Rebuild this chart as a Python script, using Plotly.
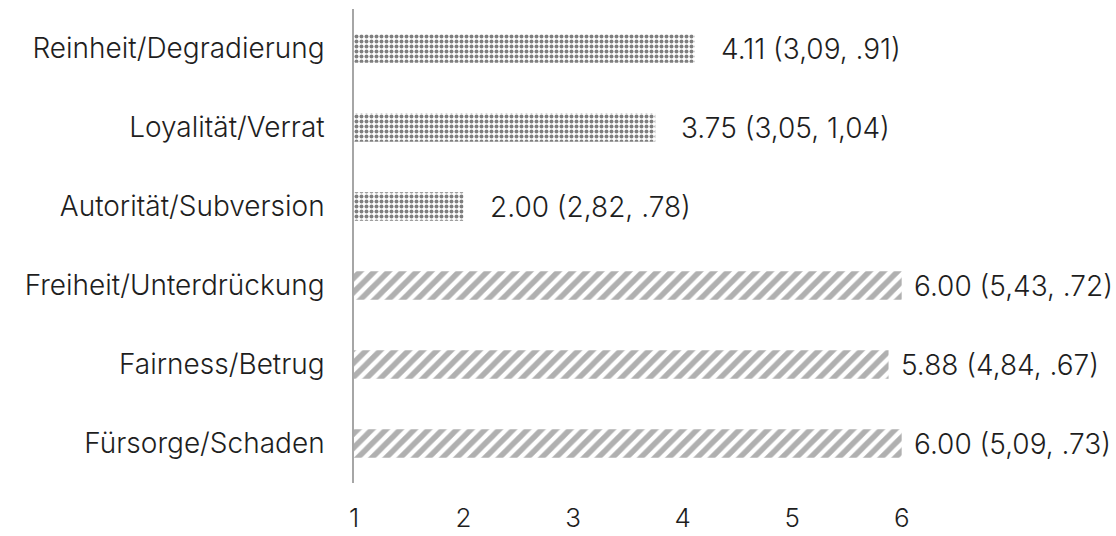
import plotly.graph_objects as go

# Moral foundations, bottom to top
individualizing = ["Fürsorge/Schaden", "Fairness/Betrug", "Freiheit/Unterdrückung"]
individualizing_mean = [6.00, 5.88, 6.00]
individualizing_ref = ["5,09", "4,84", "5,43"]
individualizing_sd = [".73", ".67", ".72"]

binding = ["Autorität/Subversion", "Loyalität/Verrat", "Reinheit/Degradierung"]
binding_mean = [2.00, 3.75, 4.11]
binding_ref = ["2,82", "3,05", "3,09"]
binding_sd = [".78", "1,04", ".91"]

categories = individualizing + binding
x_ticks = [1, 2, 3, 4, 5, 6]

FONT = dict(family="Inter, Open Sans, sans-serif", size=28, color="#1e1e1e", weight=300)
TICK_FONT = dict(FONT, size=26)

fig = go.Figure()

fig.add_trace(go.Bar(
    y=individualizing, x=individualizing_mean, orientation="h",
    marker=dict(color="white", line=dict(width=0),
                pattern=dict(shape="/", fgcolor="#626262", bgcolor="white",
                             size=10, solidity=0.55)),
    showlegend=False,
))
fig.add_trace(go.Bar(
    y=binding, x=binding_mean, orientation="h",
    marker=dict(color="white", line=dict(width=0),
                pattern=dict(shape=".", fgcolor="#000000", bgcolor="white",
                             size=5, solidity=0.5)),
    showlegend=False,
))

# Value labels: mean (reference mean, SD)
for names, means, refs, sds, shift in [
    (individualizing, individualizing_mean, individualizing_ref, individualizing_sd, 10),
    (binding, binding_mean, binding_ref, binding_sd, 24),
]:
    for n, m, r, s in zip(names, means, refs, sds):
        fig.add_annotation(
            x=m, y=n, text=f"{m:.2f} ({r}, {s})", showarrow=False,
            xanchor="left", yanchor="middle", xshift=shift, font=FONT,
        )

fig.update_layout(
    width=1116, height=536,
    margin=dict(l=354, r=50, t=9, b=53),
    paper_bgcolor="white", plot_bgcolor="white",
    bargap=0.64,
    font=FONT,
    xaxis=dict(range=[1, 7.5], tickvals=x_ticks, showgrid=False, zeroline=False,
               showline=False, ticks="", tickfont=TICK_FONT, ticklabelstandoff=17,
               automargin=False),
    yaxis=dict(categoryorder="array", categoryarray=categories, showgrid=False,
               zeroline=False, showline=True, linecolor="#a6a6a6", linewidth=1.5,
               ticks="", tickfont=FONT, ticklabelstandoff=22, automargin=False),
)

fig.write_html("out.html")
